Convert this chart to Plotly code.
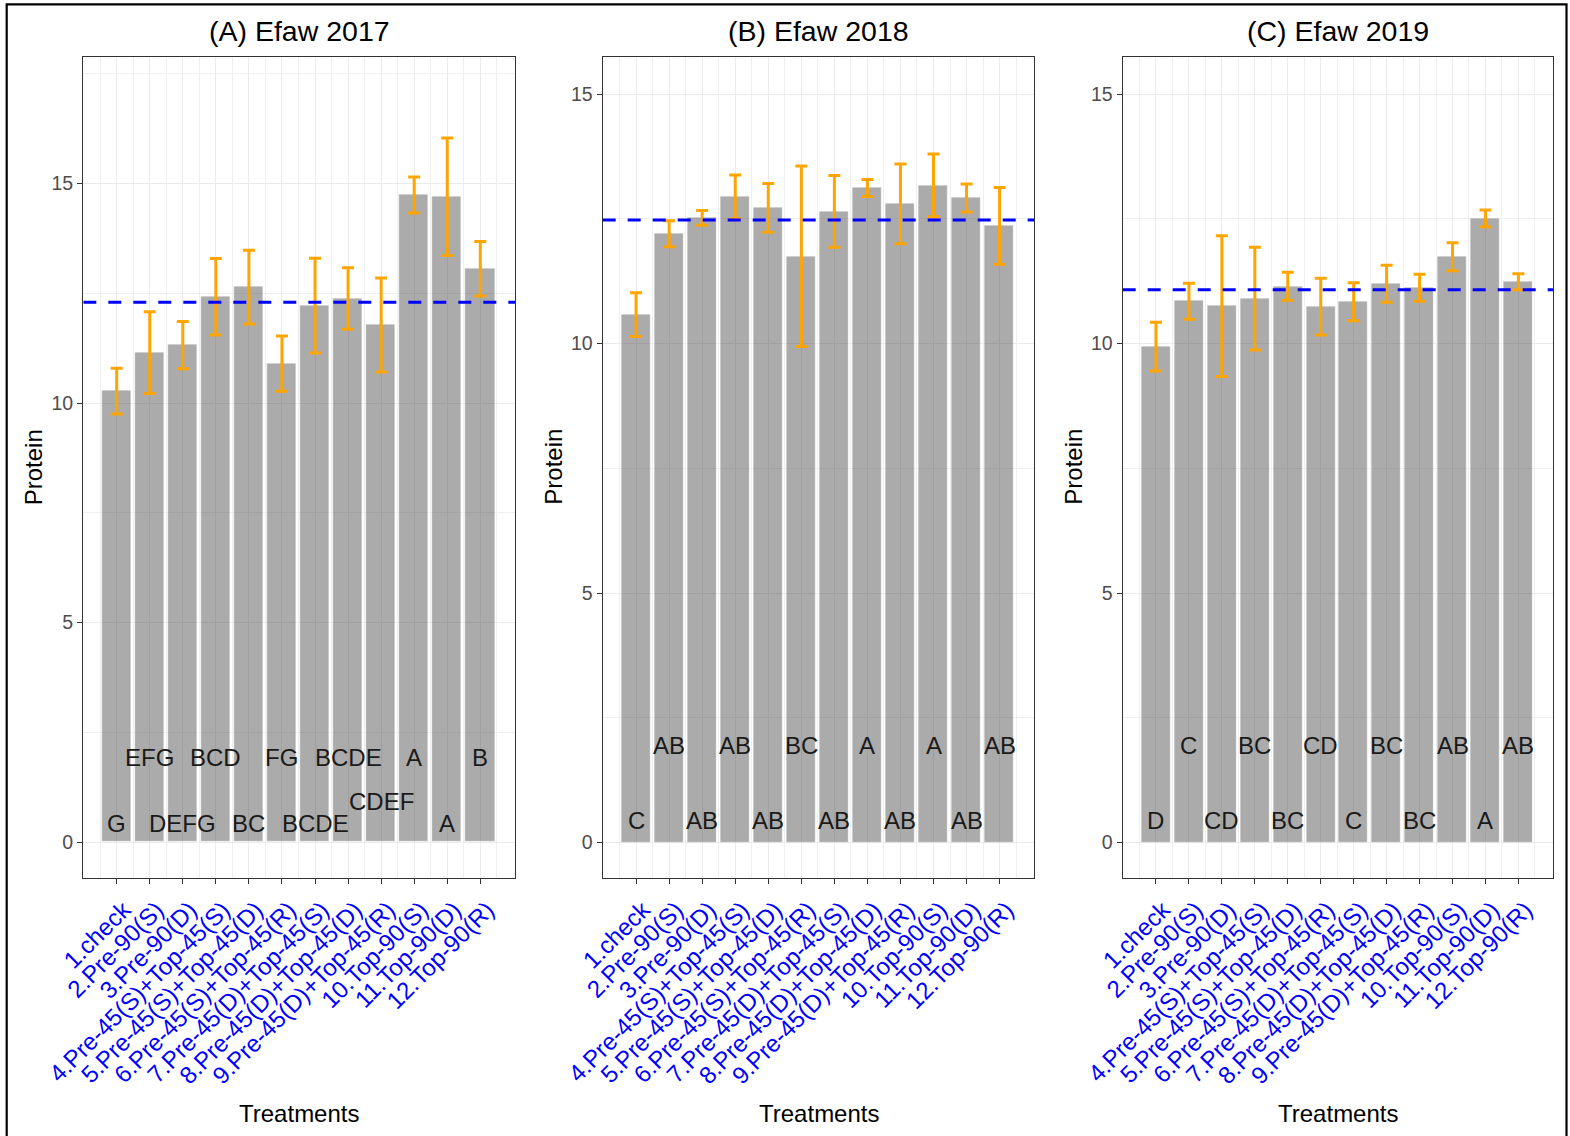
import plotly.graph_objects as go

# ---- data -----------------------------------------------------------------
treatments = [
    "1.check", "2.Pre-90(S)", "3.Pre-90(D)",
    "4.Pre-45(S)+Top-45(S)", "5.Pre-45(S)+Top-45(D)", "6.Pre-45(S)+Top-45(R)",
    "7.Pre-45(D)+Top-45(S)", "8.Pre-45(D)+Top-45(D)", "9.Pre-45(D)+Top-45(R)",
    "10.Top-90(S)", "11.Top-90(D)", "12.Top-90(R)",
]

panel_titles = ["(A) Efaw 2017", "(B) Efaw 2018", "(C) Efaw 2019"]

protein_2017 = [10.27, 11.15, 11.32, 12.42, 12.64, 10.90, 12.22, 12.38, 11.78, 14.74, 14.70, 13.06]
se_2017 = [0.52, 0.93, 0.54, 0.87, 0.84, 0.63, 1.08, 0.70, 1.07, 0.41, 1.34, 0.62]
letters_2017 = ["G", "EFG", "DEFG", "BCD", "BC", "FG", "BCDE", "BCDE", "CDEF", "A", "A", "B"]
letter_y_2017 = [0.5, 2, 0.5, 2, 0.5, 2, 0.5, 2, 1, 2, 0.5, 2]

protein_2018 = [10.58, 12.20, 12.52, 12.94, 12.72, 11.75, 12.65, 13.12, 12.80, 13.17, 12.92, 12.36]
se_2018 = [0.44, 0.26, 0.15, 0.44, 0.49, 1.81, 0.72, 0.17, 0.80, 0.63, 0.28, 0.77]
letters_2018 = ["C", "AB", "AB", "AB", "AB", "BC", "AB", "A", "AB", "A", "AB", "AB"]
letter_y_2018 = [0.5, 2, 0.5, 2, 0.5, 2, 0.5, 2, 0.5, 2, 0.5, 2]

protein_2019 = [9.94, 10.85, 10.75, 10.90, 11.15, 10.74, 10.84, 11.20, 11.12, 11.74, 12.51, 11.24]
se_2019 = [0.49, 0.36, 1.41, 1.03, 0.28, 0.57, 0.38, 0.37, 0.27, 0.28, 0.17, 0.16]
letters_2019 = ["D", "C", "CD", "BC", "BC", "CD", "C", "BC", "BC", "AB", "A", "AB"]
letter_y_2019 = [0.5, 2, 0.5, 2, 0.5, 2, 0.5, 2, 0.5, 2, 0.5, 2]

y_ticks = [0, 5, 10, 15]

# ---- layout constants -----------------------------------------------------
W, H = 1570, 1136
FONT = "Liberation Sans, Arial, sans-serif"
x_domains = [(83.3, 515.0), (602.7, 1034.3), (1122.7, 1553.0)]
y_top_px, y_bot_px = 56.7, 878.0
y_ranges = [(-0.82, 17.89), (-0.71, 15.75), (-0.71, 15.75)]
x_range = (-0.01, 13.05)

panels = [
    (protein_2017, se_2017, letters_2017, letter_y_2017),
    (protein_2018, se_2018, letters_2018, letter_y_2018),
    (protein_2019, se_2019, letters_2019, letter_y_2019),
]

positions = list(range(1, len(treatments) + 1))

fig = go.Figure()
shapes = []
annotations = []

for k, (vals, se, letters, ly) in enumerate(panels):
    suffix = "" if k == 0 else str(k + 1)
    xa, ya = "x" + suffix, "y" + suffix

    fig.add_trace(go.Bar(
        x=positions, y=vals, width=0.88,
        marker=dict(color="rgba(69,69,69,0.45)",
                    line=dict(color="rgba(255,255,255,0.35)", width=1)),
        error_y=dict(type="data", array=se, color="#FFA500",
                     thickness=3, width=6),
        xaxis=xa, yaxis=ya, showlegend=False, hoverinfo="skip",
    ))

    # significance letters above the bar base
    for pos, txt, yy in zip(positions, letters, ly):
        annotations.append(dict(
            text=txt, x=pos, y=yy, xref=xa, yref=ya,
            xanchor="center", yanchor="middle", yshift=-3, showarrow=False,
            font=dict(family=FONT, size=24, color="#1A1A1A"),
        ))

    # overall mean of the treatments as a dashed reference line
    mean_val = sum(vals) / len(vals)
    shapes.append(dict(
        type="line", xref=xa, yref=ya,
        x0=x_range[0], x1=x_range[1], y0=mean_val, y1=mean_val,
        line=dict(color="#0000FF", width=3, dash="13px,12px"),
    ))

    x0p, x1p = x_domains[k]
    dom_x = [x0p / W, x1p / W]
    dom_y = [1 - y_bot_px / H, 1 - y_top_px / H]

    fig.layout["xaxis" + suffix] = dict(
        domain=dom_x, anchor=ya, range=list(x_range), automargin=False,
        tickvals=positions, ticktext=treatments, tickangle=-45,
        tickfont=dict(family=FONT, size=24, color="#0000FF"),
        ticklabelshift=7, ticklabelstandoff=2,
        ticks="outside", ticklen=5, tickwidth=1.3, tickcolor="#333333",
        showgrid=True, gridcolor="#EBEBEB", gridwidth=1,
        minor=dict(tickvals=[p - 0.5 for p in positions] + [12.5],
                   showgrid=True, gridcolor="#EFEFEF", gridwidth=1, ticks=""),
        showline=True, linecolor="#333333", linewidth=1.4, mirror=True,
        zeroline=False, fixedrange=True,
    )
    fig.layout["yaxis" + suffix] = dict(
        domain=dom_y, anchor=xa, range=list(y_ranges[k]), automargin=False,
        tickvals=y_ticks, ticktext=[str(v) for v in y_ticks],
        tickfont=dict(family=FONT, size=19.5, color="#4D4D4D"),
        ticks="outside", ticklen=5, tickwidth=1.3, tickcolor="#333333",
        showgrid=True, gridcolor="#EBEBEB", gridwidth=1,
        minor=dict(tickvals=[2.5, 7.5, 12.5, 17.5], showgrid=True,
                   gridcolor="#EFEFEF", gridwidth=1, ticks=""),
        showline=True, linecolor="#333333", linewidth=1.4, mirror=True,
        zeroline=False, fixedrange=True,
    )

    cx = (x0p + x1p) / 2 / W
    annotations.append(dict(
        text=panel_titles[k], x=cx, y=1 - 31 / H, xref="paper", yref="paper",
        xanchor="center", yanchor="middle", showarrow=False,
        font=dict(family=FONT, size=28.5, color="#000000"),
    ))
    annotations.append(dict(
        text="Treatments", x=cx, y=1 - 1113 / H, xref="paper", yref="paper",
        xanchor="center", yanchor="middle", showarrow=False,
        font=dict(family=FONT, size=24, color="#000000"),
    ))
    annotations.append(dict(
        text="Protein", x=(x0p - 50) / W, y=1 - 467 / H, xref="paper", yref="paper",
        xanchor="center", yanchor="middle", showarrow=False, textangle=-90,
        font=dict(family=FONT, size=24, color="#000000"),
    ))

# outer frame around the whole figure
shapes.append(dict(
    type="rect", xref="paper", yref="paper",
    x0=6.7 / W, x1=1566.5 / W, y0=-0.01, y1=1 - 4.3 / H,
    line=dict(color="#000000", width=2.2), fillcolor="rgba(0,0,0,0)", layer="above",
))

fig.update_layout(
    width=W, height=H,
    margin=dict(l=0, r=0, t=0, b=0, autoexpand=False),
    paper_bgcolor="white", plot_bgcolor="white",
    shapes=shapes, annotations=annotations,
    bargap=0, showlegend=False,
)

fig.write_html("out.html")
